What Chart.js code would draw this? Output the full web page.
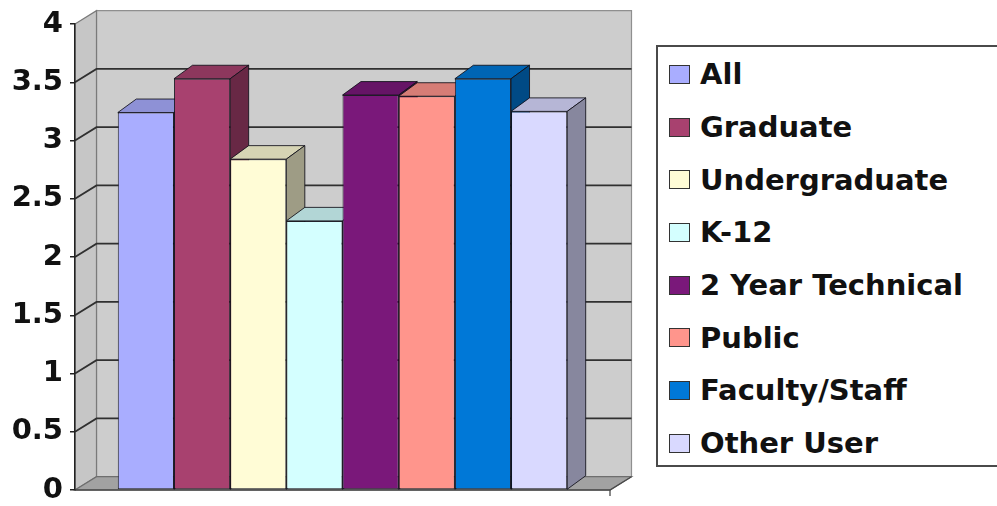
<!DOCTYPE html>
<html>
<head>
<meta charset="utf-8">
<script src="https://cdn.jsdelivr.net/npm/chart.js@4.4.1/dist/chart.umd.min.js"></script>
<style>
  html, body { margin: 0; padding: 0; background: #fff; }
  #wrap { position: relative; width: 997px; height: 506px; overflow: hidden; background: #fff; }
  #chart { position: absolute; left: 0; top: 0; }
  #legend {
    position: absolute; left: 656px; top: 45px;
    width: 420px; height: 418px;
    border: 2px solid #4a4a4a; background: #fff;
  }
  #legend ul { list-style: none; margin: 0; padding: 1px 0 0 0; }
  #legend li {
    display: flex; align-items: center; height: 52.7px;
    font: bold 29px "DejaVu Sans", sans-serif; color: #111; white-space: nowrap;
  }
  #legend .sw { width: 19px; height: 17px; border: 1px solid #333; margin: 0 10px 0 11px; flex: none; }
</style>
</head>
<body>
<div id="wrap">
  <canvas id="chart" width="997" height="506"></canvas>
  <div id="legend"></div>
</div>
<script>
// Survey groups and their average ratings
const categories = ['All', 'Graduate', 'Undergraduate', 'K-12', '2 Year Technical', 'Public', 'Faculty/Staff', 'Other User'];
const ratings = [3.24, 3.53, 2.84, 2.31, 3.39, 3.38, 3.53, 3.25];
const barColors = ['#a9adff', '#a8416f', '#fffcd6', '#d4ffff', '#7a187a', '#ff958c', '#0078d7', '#d9d9ff'];
const valueRange = [0, 4];
const valueStep = 0.5;

// Oblique depth of the walls and of the column blocks
const WALL_DX = 21.5, WALL_DY = -13.3;
const BAR_DX = 18.5, BAR_DY = -13.5;

function shade(hex, f) {
  const n = parseInt(hex.slice(1), 16);
  const r = Math.round(((n >> 16) & 255) * f);
  const g = Math.round(((n >> 8) & 255) * f);
  const b = Math.round((n & 255) * f);
  return `rgb(${r},${g},${b})`;
}

function poly(ctx, pts, fill, stroke, lw) {
  ctx.beginPath();
  ctx.moveTo(pts[0][0], pts[0][1]);
  for (let i = 1; i < pts.length; i++) ctx.lineTo(pts[i][0], pts[i][1]);
  ctx.closePath();
  if (fill) { ctx.fillStyle = fill; ctx.fill(); }
  if (stroke) { ctx.strokeStyle = stroke; ctx.lineWidth = lw || 1; ctx.stroke(); }
}

function seg(ctx, pts, color, lw) {
  ctx.beginPath();
  ctx.moveTo(pts[0][0], pts[0][1]);
  for (let i = 1; i < pts.length; i++) ctx.lineTo(pts[i][0], pts[i][1]);
  ctx.strokeStyle = color; ctx.lineWidth = lw; ctx.stroke();
}

const box3d = {
  id: 'box3d',
  // back wall, side wall, floor and their gridlines
  beforeDraw(chart) {
    const { ctx, chartArea: a, scales: { y } } = chart;
    const L = a.left, R = a.right;
    const B = y.getPixelForValue(y.min), T = y.getPixelForValue(y.max);
    const dx = WALL_DX, dy = WALL_DY;
    ctx.save();
    poly(ctx, [[L + dx, T + dy], [R + dx, T + dy], [R + dx, B + dy], [L + dx, B + dy]], '#cdcdcd', '#8f8f8f', 1.2);
    poly(ctx, [[L, T], [L + dx, T + dy], [L + dx, B + dy], [L, B]], '#c6c6c6', '#7a7a7a', 1.2);
    poly(ctx, [[L, B], [L + dx, B + dy], [R + dx, B + dy], [R, B]], '#a2a2a2', '#6e6e6e', 1.2);
    y.ticks.forEach(t => {
      if (t.value <= y.min || t.value >= y.max) return;
      const py = y.getPixelForValue(t.value);
      seg(ctx, [[L, py], [L + dx, py + dy], [R + dx, py + dy]], '#303030', 1.8);
    });
    seg(ctx, [[L, B], [R, B], [R + dx, B + dy]], '#4a4a4a', 1.3);
    seg(ctx, [[R, B], [R, B + 6]], '#4a4a4a', 1.3);
    ctx.restore();
  },
  // columns are painted left to right in afterDatasetsDraw so nearer blocks overlap
  beforeDatasetDraw() { return false; },
  afterDatasetsDraw(chart) {
    const ctx = chart.ctx;
    ctx.save();
    chart.data.datasets.forEach((ds, i) => {
      const meta = chart.getDatasetMeta(i);
      if (!chart.isDatasetVisible(i)) return;
      meta.data.forEach(el => {
        const { x, y, base, width } = el.getProps(['x', 'y', 'base', 'width'], true);
        const l = x - width / 2, r = x + width / 2;
        const c = ds.backgroundColor;
        const edge = 'rgba(15,15,25,0.85)';
        poly(ctx, [[l, y], [r, y], [r + BAR_DX, y + BAR_DY], [l + BAR_DX, y + BAR_DY]], shade(c, 0.84), edge, 1);
        poly(ctx, [[r, y], [r + BAR_DX, y + BAR_DY], [r + BAR_DX, base + BAR_DY], [r, base]], shade(c, 0.62), edge, 1);
        el.draw(ctx);
      });
    });
    ctx.restore();
  }
};

const chart = new Chart(document.getElementById('chart'), {
  type: 'bar',
  data: {
    labels: [''],
    datasets: categories.map((name, i) => ({
      label: name,
      data: [ratings[i]],
      backgroundColor: barColors[i],
      borderColor: 'rgba(15,15,25,0.85)',
      borderWidth: 1,
      borderSkipped: false
    }))
  },
  options: {
    responsive: false,
    animation: false,
    events: [],
    layout: { padding: { left: 0, top: 24, right: 387, bottom: 16 } },
    datasets: { bar: { categoryPercentage: 0.84, barPercentage: 1 } },
    plugins: { legend: { display: false }, tooltip: { enabled: false } },
    scales: {
      x: { display: false },
      y: {
        min: valueRange[0], max: valueRange[1],
        afterFit(s) { s.width = 75; },
        ticks: {
          stepSize: valueStep, padding: 7, color: '#111',
          callback: v => String(v),
          font: { family: 'DejaVu Sans', weight: 'bold', size: 29, lineHeight: 0.5 }
        },
        grid: { drawOnChartArea: false, tickLength: 5, color: '#222', lineWidth: 1.5 },
        border: { color: '#222', width: 1.5 }
      }
    }
  },
  plugins: [box3d]
});

// Legend list built from the chart's own legend items
const items = Chart.defaults.plugins.legend.labels.generateLabels(chart);
const ul = document.createElement('ul');
items.forEach(it => {
  const li = document.createElement('li');
  const sw = document.createElement('span');
  sw.className = 'sw';
  sw.style.background = it.fillStyle;
  li.appendChild(sw);
  li.appendChild(document.createTextNode(it.text));
  ul.appendChild(li);
});
document.getElementById('legend').appendChild(ul);
</script>
</body>
</html>
